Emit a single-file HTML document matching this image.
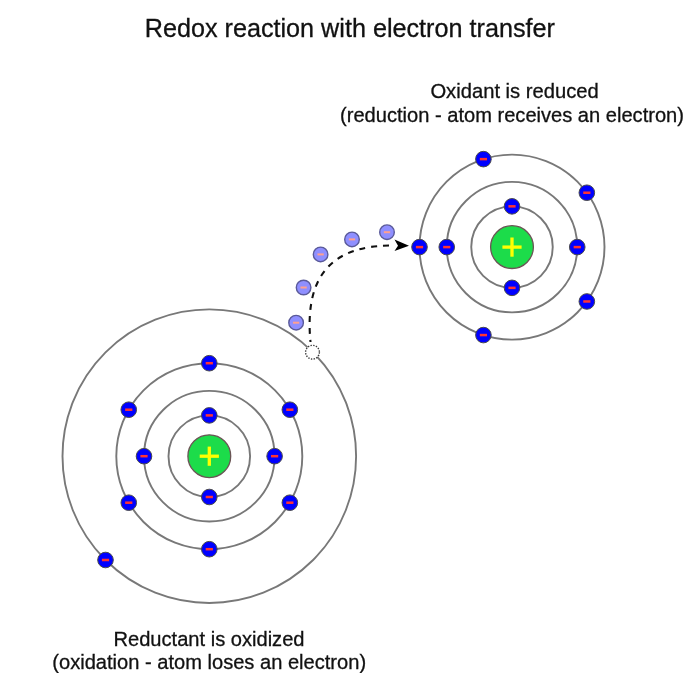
<!DOCTYPE html>
<html><head><meta charset="utf-8"><style>
html,body{margin:0;padding:0;background:#fff;}
body{width:700px;height:700px;position:relative;overflow:hidden;font-family:"Liberation Sans",sans-serif;color:#000;}
svg{position:absolute;left:0;top:0;filter:blur(0.45px);}
</style></head><body>
<svg width="700" height="700" viewBox="0 0 700 700">
<g font-family="Liberation Sans, sans-serif" fill="#111" stroke="#111" stroke-width="0.3" text-anchor="middle" style="will-change:transform">
<text x="349.8" y="37.2" font-size="25.2">Redox reaction with electron transfer</text>
<text x="514.6" y="97.5" font-size="20.2">Oxidant is reduced</text>
<text x="512" y="121.6" font-size="20.1">(reduction - atom receives an electron)</text>
<text x="209" y="645.7" font-size="20.1">Reductant is oxidized</text>
<text x="209.2" y="668.5" font-size="20.1">(oxidation - atom loses an electron)</text>
</g>
<circle cx="209.3" cy="456.2" r="40.8" fill="none" stroke="#787878" stroke-width="1.9"/>
<circle cx="209.3" cy="456.2" r="65.3" fill="none" stroke="#787878" stroke-width="1.9"/>
<circle cx="209.3" cy="456.2" r="93.0" fill="none" stroke="#787878" stroke-width="1.9"/>
<circle cx="209.3" cy="456.2" r="146.8" fill="none" stroke="#787878" stroke-width="1.9"/>
<circle cx="209.3" cy="456.2" r="21.4" fill="#1cdc4a" stroke="#6a5555" stroke-width="1.3"/>
<rect x="199.70" y="454.55" width="19.2" height="3.3" fill="#ffff00"/>
<rect x="207.65" y="446.60" width="3.3" height="19.2" fill="#ffff00"/>
<circle cx="209.30" cy="415.40" r="7.8" fill="#0000ff" stroke="#4a4a4a" stroke-width="1"/><rect x="205.70" y="414.15" width="7.2" height="2.5" fill="#ff3333"/>
<circle cx="209.30" cy="497.00" r="7.8" fill="#0000ff" stroke="#4a4a4a" stroke-width="1"/><rect x="205.70" y="495.75" width="7.2" height="2.5" fill="#ff3333"/>
<circle cx="274.60" cy="456.20" r="7.8" fill="#0000ff" stroke="#4a4a4a" stroke-width="1"/><rect x="271.00" y="454.95" width="7.2" height="2.5" fill="#ff3333"/>
<circle cx="144.00" cy="456.20" r="7.8" fill="#0000ff" stroke="#4a4a4a" stroke-width="1"/><rect x="140.40" y="454.95" width="7.2" height="2.5" fill="#ff3333"/>
<circle cx="209.30" cy="363.20" r="7.8" fill="#0000ff" stroke="#4a4a4a" stroke-width="1"/><rect x="205.70" y="361.95" width="7.2" height="2.5" fill="#ff3333"/>
<circle cx="209.30" cy="549.20" r="7.8" fill="#0000ff" stroke="#4a4a4a" stroke-width="1"/><rect x="205.70" y="547.95" width="7.2" height="2.5" fill="#ff3333"/>
<circle cx="289.84" cy="409.70" r="7.8" fill="#0000ff" stroke="#4a4a4a" stroke-width="1"/><rect x="286.24" y="408.45" width="7.2" height="2.5" fill="#ff3333"/>
<circle cx="128.76" cy="409.70" r="7.8" fill="#0000ff" stroke="#4a4a4a" stroke-width="1"/><rect x="125.16" y="408.45" width="7.2" height="2.5" fill="#ff3333"/>
<circle cx="128.76" cy="502.70" r="7.8" fill="#0000ff" stroke="#4a4a4a" stroke-width="1"/><rect x="125.16" y="501.45" width="7.2" height="2.5" fill="#ff3333"/>
<circle cx="289.84" cy="502.70" r="7.8" fill="#0000ff" stroke="#4a4a4a" stroke-width="1"/><rect x="286.24" y="501.45" width="7.2" height="2.5" fill="#ff3333"/>
<circle cx="105.50" cy="560.00" r="7.8" fill="#0000ff" stroke="#4a4a4a" stroke-width="1"/><rect x="101.90" y="558.75" width="7.2" height="2.5" fill="#ff3333"/>
<circle cx="312.50" cy="352.20" r="6.9" fill="#fff" stroke="#3a3a3a" stroke-width="1.4" stroke-dasharray="1.4 1.35"/>
<circle cx="512.0" cy="247.1" r="40.75" fill="none" stroke="#787878" stroke-width="1.9"/>
<circle cx="512.0" cy="247.1" r="65.25" fill="none" stroke="#787878" stroke-width="1.9"/>
<circle cx="512.0" cy="247.1" r="92.5" fill="none" stroke="#787878" stroke-width="1.9"/>
<circle cx="512.0" cy="247.1" r="21.4" fill="#1cdc4a" stroke="#6a5555" stroke-width="1.3"/>
<rect x="502.40" y="245.45" width="19.2" height="3.3" fill="#ffff00"/>
<rect x="510.35" y="237.50" width="3.3" height="19.2" fill="#ffff00"/>
<circle cx="512.00" cy="206.35" r="7.8" fill="#0000ff" stroke="#4a4a4a" stroke-width="1"/><rect x="508.40" y="205.10" width="7.2" height="2.5" fill="#ff3333"/>
<circle cx="512.00" cy="287.85" r="7.8" fill="#0000ff" stroke="#4a4a4a" stroke-width="1"/><rect x="508.40" y="286.60" width="7.2" height="2.5" fill="#ff3333"/>
<circle cx="577.25" cy="247.10" r="7.8" fill="#0000ff" stroke="#4a4a4a" stroke-width="1"/><rect x="573.65" y="245.85" width="7.2" height="2.5" fill="#ff3333"/>
<circle cx="446.75" cy="247.10" r="7.8" fill="#0000ff" stroke="#4a4a4a" stroke-width="1"/><rect x="443.15" y="245.85" width="7.2" height="2.5" fill="#ff3333"/>
<circle cx="419.50" cy="247.10" r="7.8" fill="#0000ff" stroke="#4a4a4a" stroke-width="1"/><rect x="415.90" y="245.85" width="7.2" height="2.5" fill="#ff3333"/>
<circle cx="483.42" cy="159.13" r="7.8" fill="#0000ff" stroke="#4a4a4a" stroke-width="1"/><rect x="479.82" y="157.88" width="7.2" height="2.5" fill="#ff3333"/>
<circle cx="586.83" cy="192.73" r="7.8" fill="#0000ff" stroke="#4a4a4a" stroke-width="1"/><rect x="583.23" y="191.48" width="7.2" height="2.5" fill="#ff3333"/>
<circle cx="586.83" cy="301.47" r="7.8" fill="#0000ff" stroke="#4a4a4a" stroke-width="1"/><rect x="583.23" y="300.22" width="7.2" height="2.5" fill="#ff3333"/>
<circle cx="483.42" cy="335.07" r="7.8" fill="#0000ff" stroke="#4a4a4a" stroke-width="1"/><rect x="479.82" y="333.82" width="7.2" height="2.5" fill="#ff3333"/>
<path d="M310.5,342 C303.57,269.73 337.55,244.68 395,245.5" fill="none" stroke="#111" stroke-width="2.1" stroke-dasharray="6 6" stroke-dashoffset="4"/>
<path d="M409,245.8 L394.5,239.5 L398,245.7 L394.5,251 Z" fill="#000"/>
<circle cx="387.00" cy="232.20" r="7.3" fill="#8f8fff" stroke="#5a5a9a" stroke-width="1.4"/><rect x="383.85" y="231.20" width="6.3" height="2" fill="#ffa090"/>
<circle cx="352.00" cy="239.40" r="7.3" fill="#8f8fff" stroke="#5a5a9a" stroke-width="1.4"/><rect x="348.85" y="238.40" width="6.3" height="2" fill="#ffa090"/>
<circle cx="320.60" cy="254.40" r="7.3" fill="#8f8fff" stroke="#5a5a9a" stroke-width="1.4"/><rect x="317.45" y="253.40" width="6.3" height="2" fill="#ffa090"/>
<circle cx="303.60" cy="287.50" r="7.3" fill="#8f8fff" stroke="#5a5a9a" stroke-width="1.4"/><rect x="300.45" y="286.50" width="6.3" height="2" fill="#ffa090"/>
<circle cx="296.10" cy="322.70" r="7.3" fill="#8f8fff" stroke="#5a5a9a" stroke-width="1.4"/><rect x="292.95" y="321.70" width="6.3" height="2" fill="#ffa090"/>
</svg>
</body></html>
